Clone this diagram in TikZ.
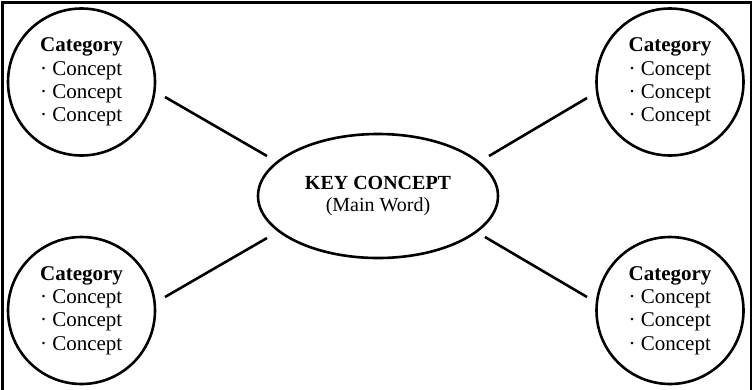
\documentclass[tikz,border=0pt]{standalone}
\usepackage{fontspec}
\setmainfont{Liberation Serif}
\usetikzlibrary{shapes.geometric}
\begin{document}
\begin{tikzpicture}[x=1pt,y=-1pt,
  catnode/.style={circle, draw, line width=2.6pt, minimum size=147pt, inner sep=0pt,
    align=left, font=\fontsize{21}{23.3}\selectfont},
  keynode/.style={ellipse, draw, line width=2.6pt, minimum width=240pt, minimum height=124pt,
    inner sep=0pt, align=center, font=\fontsize{20}{22}\selectfont},
  link/.style={line width=2.6pt},
  frame/.style={line width=2.6pt}]
\useasboundingbox (0,0) rectangle (754,389);
\draw[frame] (2.5,2.5) rectangle (751,400);

\newcommand{\cattext}{\textbf{Category}\\· Concept\\· Concept\\· Concept}

\node[catnode] (tl) at (81.5,82) {\cattext};
\node[catnode] (bl) at (81.5,310.5) {\cattext};
\node[catnode] (tr) at (670,82) {\cattext};
\node[catnode] (br) at (670,310.5) {\cattext};

\node[keynode] (key) at (378,196) {\textbf{KEY CONCEPT}\\(Main Word)};

\coordinate (tlA) at (165,97);
\coordinate (tlB) at (267,156);
\coordinate (blA) at (165,297);
\coordinate (blB) at (267,238);
\coordinate (trA) at (587,98);
\coordinate (trB) at (489,156);
\coordinate (brA) at (587,297);
\coordinate (brB) at (485,237);

\draw[link] (tlA) -- (tlB);
\draw[link] (blA) -- (blB);
\draw[link] (trA) -- (trB);
\draw[link] (brA) -- (brB);
\end{tikzpicture}
\end{document}
